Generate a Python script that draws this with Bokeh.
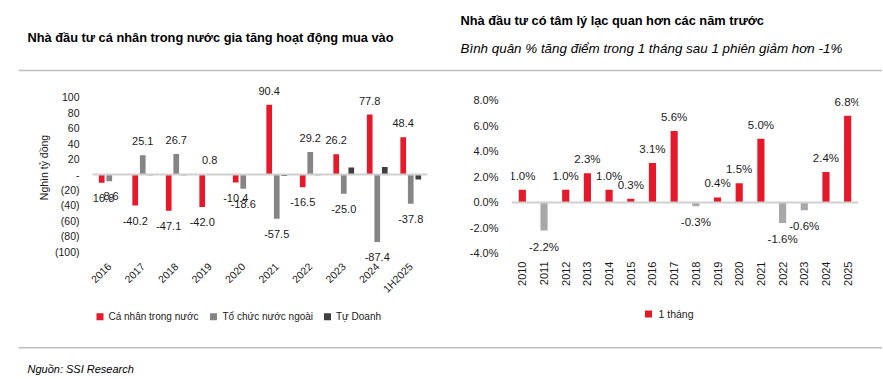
from math import pi
from bokeh.plotting import figure
from bokeh.models import (ColumnDataSource, FactorRange, Range1d, FixedTicker, LabelSet, Label,
                          Span, BoxAnnotation)
from bokeh.core.properties import value
from bokeh.transform import dodge
from bokeh.layouts import row, column
from bokeh.embed import file_html
from bokeh.resources import INLINE

# ---------------- data ----------------
years_l = ["2016", "2017", "2018", "2019", "2020", "2021", "2022", "2023", "2024", "1H2025"]
ca_nhan = [-10.8, -40.2, -47.1, -42.0, -10.4, 90.4, -16.5, 26.2, 77.8, 48.4]
to_chuc = [-8.6, 25.1, 26.7, 0.8, -18.6, -57.5, 29.2, -25.0, -87.4, -37.8]
tu_doanh = [-0.4, -1.0, -1.0, 0.3, 0.2, -2.0, -1.0, 9.0, 9.8, -6.4]
yticks_l = [100, 80, 60, 40, 20, 0, -20, -40, -60, -80, -100]
ytick_labels_l = ["100", "80", "60", "40", "20", "-", "(20)", "(40)", "(60)", "(80)", "(100)"]
series_names_l = ["Cá nhân trong nước", "Tổ chức nước ngoài", "Tự Doanh"]

years_r = ["2010", "2011", "2012", "2013", "2014", "2015", "2016", "2017",
           "2018", "2019", "2020", "2021", "2022", "2023", "2024", "2025"]
mot_thang = [1.0, -2.2, 1.0, 2.3, 1.0, 0.3, 3.1, 5.6, -0.3, 0.4, 1.5, 5.0, -1.6, -0.6, 2.4, 6.8]
yticks_r = [8, 6, 4, 2, 0, -2, -4]
ytick_labels_r = ["8.0%", "6.0%", "4.0%", "2.0%", "0.0%", "-2.0%", "-4.0%"]

title_l = "Nhà đầu tư cá nhân trong nước gia tăng hoạt động mua vào"
title_r = "Nhà đầu tư có tâm lý lạc quan hơn các năm trước"
subtitle_r = "Bình quân % tăng điểm trong 1 tháng sau 1 phiên giảm hơn -1%"
ylabel_l = "Nghìn tỷ đồng"
source_txt = "Nguồn: SSI Research"
legend_r = "1 tháng"

# ---------------- style ----------------
FONT = "Liberation Sans"
RED = "#E5192A"
GRAY = "#858585"
DARK = "#404040"
LGRAY = "#A8A8A8"
TXT = "#1a1a1a"
RULE = "#BFBFBF"
W = 882


def blank_fig(width, height, y0, y1):
    p = figure(width=width, height=height, x_range=Range1d(0, width), y_range=Range1d(y1, y0),
               output_backend="svg", toolbar_location=None,
               x_axis_location=None, y_axis_location=None, min_border=0)
    p.outline_line_color = None
    p.grid.visible = False
    return p


def base_fig(fw, fh, x_range, y_range, left, right, top, bottom):
    p = figure(frame_width=fw, frame_height=fh, x_range=x_range, y_range=y_range,
               output_backend="svg", toolbar_location=None,
               min_border_left=left, min_border_right=right,
               min_border_top=top, min_border_bottom=bottom)
    p.outline_line_color = None
    p.xgrid.grid_line_color = None
    p.ygrid.grid_line_color = None
    for ax in (p.xaxis[0], p.yaxis[0]):
        ax.axis_line_color = None
        ax.major_tick_line_color = None
        ax.minor_tick_line_color = None
        ax.major_tick_out = 0
        ax.major_tick_in = 0
        ax.major_label_text_font = FONT
        ax.major_label_text_color = TXT
    return p


def add_text(p, x, y, text, size, style="normal", color="#000000"):
    p.add_layout(Label(x=x, y=y, text=text, text_baseline="middle", text_font=FONT,
                       text_font_style=style, text_font_size=size, text_color=color))


def add_swatch(p, x, y, color, s=7):
    p.add_layout(BoxAnnotation(left=x, right=x + s, top=y - s / 2, bottom=y + s / 2,
                               fill_color=color, fill_alpha=1, line_alpha=0))


# ================= HEADER =================
hdr = blank_fig(W, 72, 0, 72)
add_text(hdr, 27, 37, title_l, "12.8px", "bold")
add_text(hdr, 460, 20, title_r, "12.8px", "bold")
add_text(hdr, 460, 48, subtitle_r, "13.4px", "italic")
hdr.add_layout(BoxAnnotation(left=18, right=W, top=69.3, bottom=70.8,
                             fill_color=RULE, fill_alpha=1, line_alpha=0))

# ================= LEFT CHART =================
src_l = ColumnDataSource(dict(
    x=years_l, a=ca_nhan, b=to_chuc, c=tu_doanh,
    ta=[f"{v:.1f}" for v in ca_nhan], tb=[f"{v:.1f}" for v in to_chuc],
    oa=[14 if v >= 0 else -15 for v in ca_nhan],
    ob=[14 if v >= 0 else -15 for v in to_chuc],
))
xr_l = FactorRange(*years_l, range_padding=0)
pl = base_fig(335, 190, xr_l, Range1d(-114.1, 132.3), 92, 13, 0, 36)

pl.vbar(x=dodge("x", -0.225, range=xr_l), top="a", width=0.17, source=src_l,
        fill_color=RED, line_color=None)
pl.vbar(x=dodge("x", 0.0, range=xr_l), top="b", width=0.17, source=src_l,
        fill_color=GRAY, line_color=None)
pl.vbar(x=dodge("x", 0.225, range=xr_l), top="c", width=0.17, source=src_l,
        fill_color=DARK, line_color=None)
pl.add_layout(Span(location=0, dimension="width", line_color="#D0D0D0", line_width=2), "center")

for col, off, txt in (("a", -0.225, "ta"), ("b", 0.0, "tb")):
    pl.add_layout(LabelSet(x=dodge("x", off, range=xr_l), y=col, text=txt, source=src_l,
                           y_offset="o" + col, text_align="center", text_baseline="middle",
                           text_font=value(FONT), text_font_size=value("11px"),
                           text_color=TXT))

pl.yaxis.ticker = FixedTicker(ticks=yticks_l)
pl.yaxis.major_label_overrides = dict(zip(yticks_l, ytick_labels_l))
pl.yaxis.major_label_standoff = 13
pl.yaxis.major_label_text_font_size = "10.5px"
pl.yaxis.axis_label = ylabel_l
pl.yaxis.axis_label_standoff = 2
pl.yaxis.axis_label_text_font = FONT
pl.yaxis.axis_label_text_font_style = "normal"
pl.yaxis.axis_label_text_font_size = "10.5px"
pl.yaxis.axis_label_text_color = TXT
pl.xaxis.major_label_orientation = pi / 4
pl.xaxis.major_label_standoff = 2
pl.xaxis.major_label_text_font_size = "10.5px"

# ================= RIGHT CHART =================
src_r = ColumnDataSource(dict(
    x=years_r, v=mot_thang,
    color=[RED if v >= 0 else LGRAY for v in mot_thang],
    t=[f"{v:.1f}%" for v in mot_thang],
    o=[14 if v >= 0 else -16 for v in mot_thang],
))
xr_r = FactorRange(*years_r, range_padding=0)
pr = base_fig(347, 185, xr_r, Range1d(-4.314, 10.196), 71, 24, 0, 41)
pr.vbar(x="x", top="v", width=0.33, source=src_r, fill_color="color", line_color=None)
pr.add_layout(Span(location=0, dimension="width", line_color="#D0D0D0", line_width=2), "center")
pr.add_layout(LabelSet(x="x", y="v", text="t", y_offset="o", source=src_r,
                       text_align="center", text_baseline="middle",
                       text_font=value(FONT), text_font_size=value("11.5px"), text_color=TXT))
pr.yaxis.ticker = FixedTicker(ticks=yticks_r)
pr.yaxis.major_label_overrides = dict(zip(yticks_r, ytick_labels_r))
pr.yaxis.major_label_standoff = 13
pr.yaxis.major_label_text_font_size = "11px"
pr.xaxis.major_label_orientation = pi / 2
pr.xaxis.major_label_standoff = 4
pr.xaxis.major_label_text_font_size = "11px"

# ================= FOOTER (legends, rule, source) =================
ftr = blank_fig(W, 80, 298, 378)
for sx, tx, col, name in ((96, 108, RED, series_names_l[0]),
                          (209.5, 222, GRAY, series_names_l[1]),
                          (323.5, 335.5, DARK, series_names_l[2])):
    add_swatch(ftr, sx, 313.3, col)
    add_text(ftr, tx, 313.3, name, "10px", color=TXT)
add_swatch(ftr, 644.5, 310.5, RED)
add_text(ftr, 658, 310.5, legend_r, "10.5px", color=TXT)

ftr.add_layout(BoxAnnotation(left=18, right=W, top=343.5, bottom=345.0,
                             fill_color=RULE, fill_alpha=1, line_alpha=0))
add_text(ftr, 27, 365, source_txt, "11px", "italic")

layout = column(hdr, row(pl, pr, spacing=0), ftr, spacing=0)
open("out.html", "w").write(file_html(layout, INLINE))
